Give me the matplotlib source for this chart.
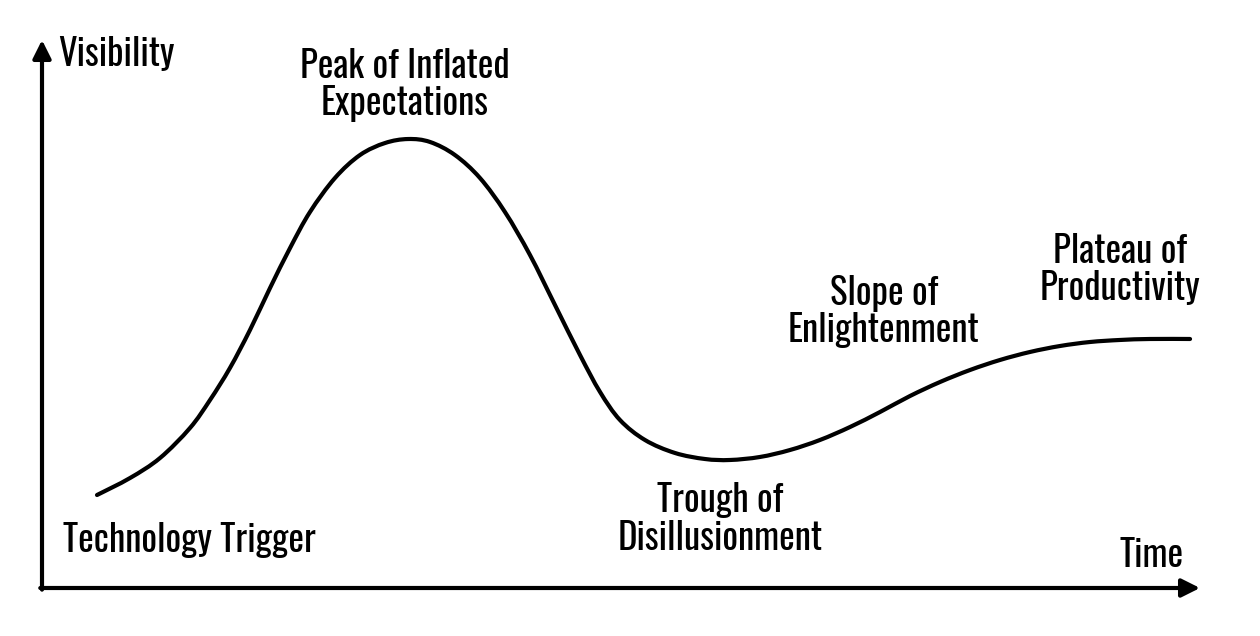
import matplotlib
matplotlib.use("Agg")
import matplotlib.pyplot as plt
from matplotlib import font_manager
from matplotlib.path import Path
from matplotlib.patches import PathPatch

# ---- data (Time vs Visibility, in 0..100 units) ----
time_vals = [4.75, 7.60, 10.19, 12.78, 14.51, 16.23, 17.96, 19.69, 21.42, 23.14,
             25.30, 27.46, 29.62, 31.61, 33.51, 35.66, 37.82, 39.98, 42.14, 44.30,
             46.46, 48.19, 49.91, 52.07, 54.66, 57.25, 59.41, 62.00, 64.59, 67.18,
             69.78, 72.37, 74.96, 77.55, 80.14, 82.73, 85.32, 87.91, 90.50, 93.09,
             95.68, 99.14]
visibility_vals = [16.97, 20.07, 23.72, 29.20, 34.31, 40.15, 47.08, 54.74, 62.04, 68.61,
                   74.82, 79.01, 81.20, 81.93, 81.39, 79.01, 74.82, 68.61, 60.77, 51.64,
                   42.52, 35.77, 30.66, 27.01, 24.64, 23.54, 23.36, 23.91, 25.18, 27.01,
                   29.38, 32.12, 35.04, 37.59, 39.78, 41.61, 43.07, 44.16, 44.89, 45.26,
                   45.44, 45.44]

phase_labels = ["Technology Trigger", "Peak of Inflated\nExpectations",
                "Trough of\nDisillusionment", "Slope of\nEnlightenment",
                "Plateau of\nProductivity"]
phase_x = [1.81, 31.35, 58.55, 72.7, 93.1]
phase_y = [8.58, 91.8, 12.5, 50.4, 58.1]
phase_ha = ["left", "center", "center", "center", "center"]

x_label = "Time"
y_label = "Visibility"

# ---- font choice: prefer a narrow family ----
available = {f.name for f in font_manager.fontManager.ttflist}
family = "DejaVu Sans"
stretch = "normal"
for cand in ["Oswald", "Roboto Condensed", "Liberation Sans Narrow", "DejaVu Sans Condensed"]:
    if cand in available:
        family = cand
        break
else:
    stretch = "condensed"

font = dict(family=[family, "DejaVu Sans"], fontsize=26.5, fontweight="bold",
            fontstretch=stretch, color="black")

W, H = 1260, 636
fig = plt.figure(figsize=(W / 100, H / 100), dpi=100)
x0, y0, x1, y1 = 42, 588, 1200, 40
ax = fig.add_axes([x0 / W, (H - y0) / H, (x1 - x0) / W, (y0 - y1) / H])
ax.set_xlim(0, 100)
ax.set_ylim(0, 100)
ax.axis("off")

# axes arrows
arrow_kw = dict(arrowstyle="-|>,head_length=1.1,head_width=0.55", lw=3, color="black",
                shrinkA=0, shrinkB=0)
ax.annotate("", xy=(100, 0), xytext=(-0.15, 0), xycoords="data",
            arrowprops=arrow_kw, annotation_clip=False)
ax.annotate("", xy=(0, 100), xytext=(0, -0.3), xycoords="data",
            arrowprops=arrow_kw, annotation_clip=False)

# smooth curve through the read points (Catmull-Rom as cubic Bezier path)
pts = list(zip(time_vals, visibility_vals))
verts = [pts[0]]
codes = [Path.MOVETO]
n = len(pts)
for i in range(n - 1):
    p0 = pts[i - 1] if i > 0 else pts[i]
    p1 = pts[i]
    p2 = pts[i + 1]
    p3 = pts[i + 2] if i + 2 < n else pts[i + 1]
    c1 = (p1[0] + (p2[0] - p0[0]) / 6, p1[1] + (p2[1] - p0[1]) / 6)
    c2 = (p2[0] - (p3[0] - p1[0]) / 6, p2[1] - (p3[1] - p1[1]) / 6)
    verts += [c1, c2, p2]
    codes += [Path.CURVE4] * 3
ax.add_patch(PathPatch(Path(verts, codes), facecolor="none", edgecolor="black",
                       lw=3, capstyle="round", joinstyle="round", clip_on=False))

# labels
for lab, x, y, ha in zip(phase_labels, phase_x, phase_y, phase_ha):
    ax.text(x, y, lab, ha=ha, va="center", linespacing=1.0, clip_on=False, **font)

ax.text(95.85, 6.0, x_label, ha="center", va="center", **font)
ax.text(1.38, 97.3, y_label, ha="left", va="center", **font)

fig.savefig("out.png", dpi=100, facecolor="white")
